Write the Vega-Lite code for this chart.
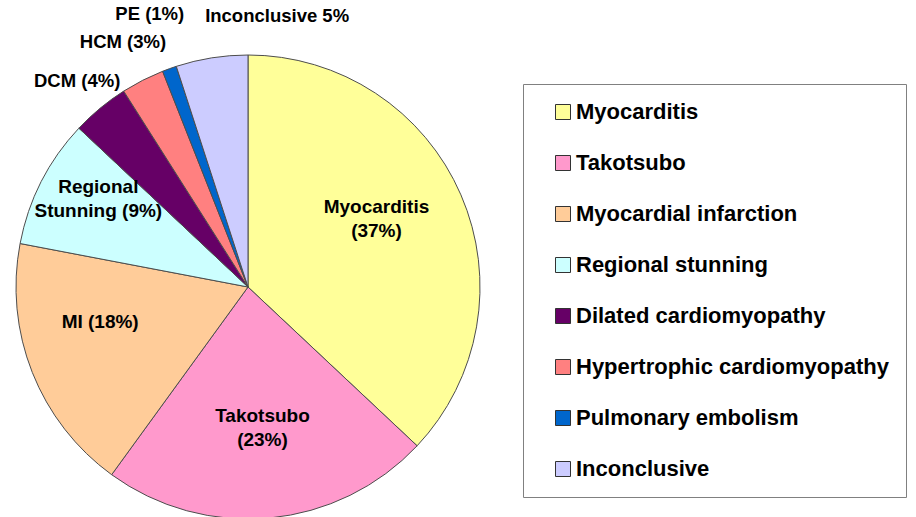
{
  "$schema": "https://vega.github.io/schema/vega-lite/v6.json",
  "width": 496,
  "height": 460,
  "autosize": {"type": "none"},
  "padding": {"left": 0, "top": 57, "right": 420, "bottom": 0},
  "background": "white",
  "data": {
    "values": [
      {"diagnosis": "Myocarditis", "label": "Myocarditis\n(37%)", "value": 37, "rank": 1},
      {"diagnosis": "Takotsubo", "label": "Takotsubo\n(23%)", "value": 23, "rank": 2},
      {"diagnosis": "Myocardial infarction", "label": "MI (18%)", "value": 18, "rank": 3},
      {"diagnosis": "Regional stunning", "label": "Regional\nStunning (9%)", "value": 9, "rank": 4},
      {"diagnosis": "Dilated cardiomyopathy", "label": "DCM (4%)", "value": 4, "rank": 5},
      {"diagnosis": "Hypertrophic cardiomyopathy", "label": "HCM (3%)", "value": 3, "rank": 6},
      {"diagnosis": "Pulmonary embolism", "label": "PE (1%)", "value": 1, "rank": 7},
      {"diagnosis": "Inconclusive", "label": "Inconclusive 5%", "value": 5, "rank": 8}
    ]
  },
  "layer": [
    {
      "mark": {"type": "arc", "radius": 232, "stroke": "#4d4d4d", "strokeWidth": 1},
      "encoding": {
        "theta": {"field": "value", "type": "quantitative", "stack": true},
        "order": {"field": "rank", "type": "quantitative"},
        "color": {
          "field": "diagnosis",
          "type": "nominal",
          "scale": {
            "domain": ["Myocarditis", "Takotsubo", "Myocardial infarction", "Regional stunning", "Dilated cardiomyopathy", "Hypertrophic cardiomyopathy", "Pulmonary embolism", "Inconclusive"],
            "range": ["#FFFF99", "#FF99CC", "#FFCC99", "#CCFFFF", "#660066", "#FF8080", "#0066CC", "#CCCCFF"]
          },
          "legend": {
            "orient": "none",
            "legendX": 523,
            "legendY": 27,
            "title": null,
            "symbolType": "square",
            "symbolSize": 225,
            "symbolStrokeColor": "#333333",
            "symbolStrokeWidth": 1,
            "symbolOffset": 12,
            "labelOffset": 2,
            "labelFont": "Liberation Sans",
            "labelFontWeight": "bold",
            "labelFontSize": 22,
            "labelColor": "#000000",
            "labelLimit": 500,
            "rowPadding": 29,
            "padding": 17,
            "strokeColor": "#808080"
          }
        }
      }
    },
    {
      "mark": {"type": "text", "dy": -24, "font": "Liberation Sans", "fontWeight": "bold", "fontSize": 19, "lineBreak": "\n", "lineHeight": 24, "align": "center", "baseline": "middle", "color": "#000000"},
      "encoding": {
        "theta": {"field": "value", "type": "quantitative", "stack": true},
        "order": {"field": "rank", "type": "quantitative"},
        "radius": {"field": "value", "type": "quantitative", "scale": {"type": "linear", "domain": [9, 37], "range": [168, 140], "zero": false}},
        "text": {"condition": {"test": "datum.value >= 9", "field": "label"}, "value": ""}
      }
    },
    {
      "mark": {"type": "text", "font": "Liberation Sans", "fontWeight": "bold", "fontSize": 18.5, "align": "center", "baseline": "middle", "color": "#000000"},
      "encoding": {
        "theta": {"field": "value", "type": "quantitative", "stack": true},
        "order": {"field": "rank", "type": "quantitative"},
        "radius": {"field": "value", "type": "quantitative", "scale": {"type": "linear", "domain": [1, 4], "range": [290, 268], "zero": false}},
        "text": {"condition": {"test": "datum.value < 9 && datum.diagnosis != 'Inconclusive'", "field": "label"}, "value": ""}
      }
    },
    {
      "mark": {"type": "text", "radius": 274, "font": "Liberation Sans", "fontWeight": "bold", "fontSize": 18.5, "align": "left", "baseline": "middle", "color": "#000000"},
      "encoding": {
        "theta": {"field": "value", "type": "quantitative", "stack": true},
        "order": {"field": "rank", "type": "quantitative"},
        "text": {"condition": {"test": "datum.diagnosis == 'Inconclusive'", "field": "label"}, "value": ""}
      }
    }
  ],
  "resolve": {"scale": {"radius": "independent"}},
  "config": {"view": {"stroke": null}}
}
